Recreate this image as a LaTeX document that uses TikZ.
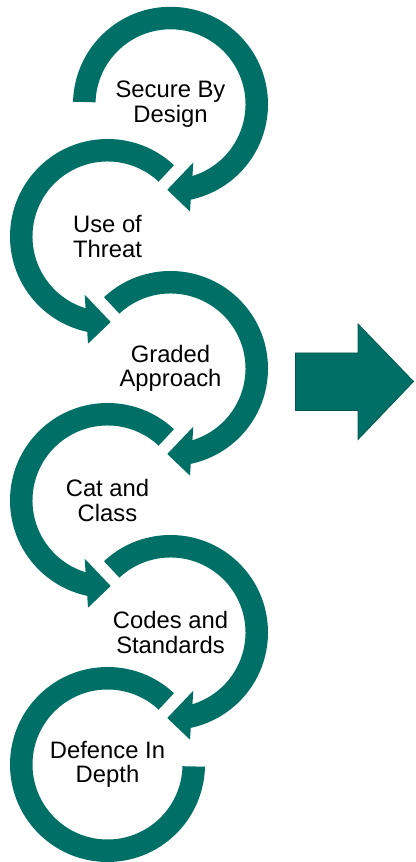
\documentclass[tikz,border=0pt]{standalone}
\usepackage{fontspec}
\setmainfont{Liberation Sans}
\definecolor{tealfill}{RGB}{0,112,102}
\definecolor{tealedge}{RGB}{0,88,80}
\tikzset{
  ring/.style={fill=tealfill},
  lbl/.style={align=center, font=\fontsize{23.8}{24.3}\selectfont, inner sep=0pt, text=black},
  bigarrow/.style={fill=tealfill, draw=tealedge, line width=0.8pt, line join=miter}
}
% clockwise ring with arrowhead at the bottom pointing left
\newcommand\cwring[2]{%
  \begin{scope}[shift={(#1)}]
    \fill[ring] (#2:97.5pt) arc[start angle=#2, end angle=-78, radius=97.5pt]
      -- (19.5,-107.2) -- (-3.2,-85.5) -- (22.8,-58.2)
      -- (-73:75pt) arc[start angle=-73, end angle=#2, radius=75pt] -- cycle;
  \end{scope}}
% counter-clockwise ring with arrowhead at the bottom pointing right
\newcommand\ccwring[2]{%
  \begin{scope}[shift={(#1)}]
    \fill[ring] (#2:97.5pt) arc[start angle=#2, end angle=258, radius=97.5pt]
      -- (-19.5,-107.2) -- (3.2,-85.5) -- (-22.8,-58.2)
      -- (253:75pt) arc[start angle=253, end angle=#2, radius=75pt] -- cycle;
  \end{scope}}
\begin{document}
\begin{tikzpicture}[x=1pt,y=1pt]
\useasboundingbox (0,0) rectangle (415,862);
\cwring{170.5,757.7}{178.5}
\ccwring{107.5,625.5}{47}
\cwring{170.5,493.5}{133}
\ccwring{107.5,361.5}{47}
\cwring{170.5,229.5}{133}
\begin{scope}[shift={(107.5,97.5)}]
  \fill[ring] (47:97.5pt) arc[start angle=47, end angle=358.7, radius=97.5pt]
    -- (358.7:75pt) arc[start angle=358.7, end angle=47, radius=75pt] -- cycle;
\end{scope}
\node[lbl] (t1) at (170.5,757.7) {Secure By\\Design};
\node[lbl] (t2) at (107.5,625.5) {Use of\\Threat};
\node[lbl] (t3) at (170.5,493.5) {Graded\\Approach};
\node[lbl] (t4) at (107.5,361.5) {Cat and\\Class};
\node[lbl] (t5) at (170.5,229.5) {Codes and\\Standards};
\node[lbl] (t6) at (107.5,97.5) {Defence In\\Depth};
\draw[bigarrow] (295.5,509) -- (358,509) -- (358,538) -- (413.5,480.5) -- (358,422.5) -- (358,451.5) -- (295.5,451.5) -- cycle;
\end{tikzpicture}
\end{document}
